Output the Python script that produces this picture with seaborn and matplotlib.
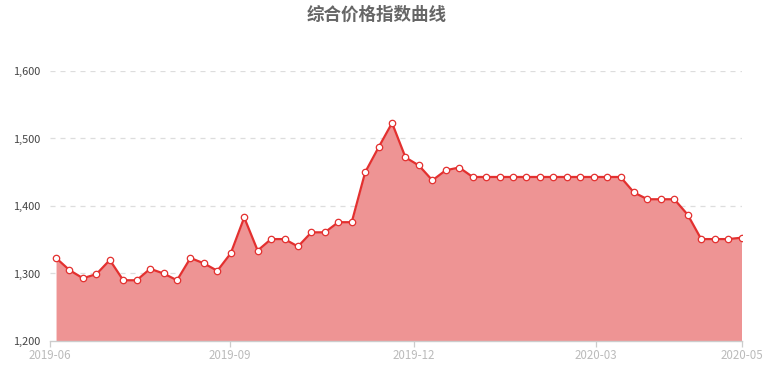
import matplotlib
matplotlib.use("Agg")
import matplotlib.pyplot as plt
import seaborn as sns
import pandas as pd
import numpy as np

title = "综合价格指数曲线"
values = [1323, 1305, 1293, 1299, 1320, 1290, 1290, 1307, 1300, 1290,
          1323, 1315, 1304, 1330, 1383, 1334, 1351, 1351, 1340, 1361,
          1361, 1376, 1376, 1450, 1487, 1523, 1472, 1460, 1438, 1453,
          1457, 1443, 1443, 1443, 1443, 1443, 1443, 1443, 1443, 1443,
          1443, 1443, 1443, 1420, 1410, 1410, 1410, 1387, 1351, 1351,
          1351, 1353]
x_tick_labels = ["2019-06", "2019-09", "2019-12", "2020-03", "2020-05"]
x_tick_pos = [-0.45, 12.96, 26.6, 40.2, 51]
y_ticks = [1200, 1300, 1400, 1500, 1600]

df = pd.DataFrame({"idx": np.arange(len(values)), "value": values})

sns.set_theme(style="white")
plt.rcParams['font.family'] = ['Noto Sans CJK SC', 'DejaVu Sans']

fig = plt.figure(figsize=(7.72, 3.72), dpi=100)
ax = fig.add_axes([50/772, 31/372, 691.5/772, 270/372])

line_c = "#E3302F"
fill_c = "#EE9494"

ax.fill_between(df["idx"], df["value"], 1200, color=fill_c, linewidth=0, zorder=1)
sns.lineplot(data=df, x="idx", y="value", ax=ax, color=line_c, linewidth=1.6,
             marker="o", markersize=4.6, markerfacecolor="white",
             markeredgecolor=line_c, markeredgewidth=0.9, zorder=3)

ax.set_xlim(-0.45, 51)
ax.set_ylim(1200, 1600)
ax.set_yticks(y_ticks)
ax.set_yticklabels([f"{v:,}" for v in y_ticks], color="#444444", fontsize=7.9)
ax.set_xticks(x_tick_pos)
ax.set_xticklabels(x_tick_labels, color="#BBBBBB", fontsize=8.3)
ax.set_xlabel("")
ax.set_ylabel("")

for v in y_ticks[1:]:
    ax.axhline(v, color="#DDDDDD", linewidth=0.9, linestyle=(0, (4, 4)), zorder=0.5)

for s in ["top", "right", "left"]:
    ax.spines[s].set_visible(False)
ax.spines["bottom"].set_color("#CCCCCC")
ax.spines["bottom"].set_linewidth(1.0)
ax.spines["bottom"].set_zorder(4)

ax.tick_params(axis="x", which="both", bottom=True, length=4, width=0.9,
               color="#CCCCCC", pad=2)
ax.tick_params(axis="y", which="both", left=False, length=0, pad=7)

fig.text(376.7/772, 1 - 15/372, title, ha="center", va="center",
         fontsize=12.6, fontweight="bold", color="#666666")

fig.savefig("out.png", dpi=100)
